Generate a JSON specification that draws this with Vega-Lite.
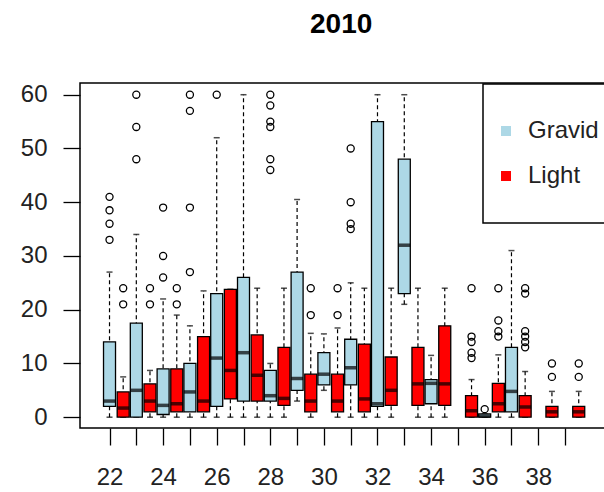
{
  "$schema": "https://vega.github.io/schema/vega-lite/v6.json",
  "autosize": "none",
  "width": 530,
  "height": 345,
  "padding": {"left": 80, "top": 83, "right": -6, "bottom": 64},
  "background": "white",
  "title": {"text": "2010", "fontSize": 28, "font": "Liberation Sans", "fontWeight": "bold", "color": "black", "anchor": "start", "frame": "group", "offset": 22, "baseline": "alphabetic", "dx": 230},
  "datasets": {
    "boxes": [
      {"len": 22, "grp": "Gravid", "lo": 0, "q1": 2, "med": 3, "q3": 14, "hi": 27},
      {"len": 23, "grp": "Gravid", "lo": 0, "q1": 0, "med": 5, "q3": 17.5, "hi": 34},
      {"len": 24, "grp": "Gravid", "lo": 0, "q1": 0.5, "med": 2.2, "q3": 9, "hi": 22},
      {"len": 25, "grp": "Gravid", "lo": 0, "q1": 1, "med": 4.7, "q3": 10, "hi": 17},
      {"len": 26, "grp": "Gravid", "lo": 0, "q1": 2, "med": 11, "q3": 23, "hi": 52},
      {"len": 27, "grp": "Gravid", "lo": 0, "q1": 3, "med": 12, "q3": 26, "hi": 60},
      {"len": 28, "grp": "Gravid", "lo": 0, "q1": 3, "med": 4, "q3": 8.7, "hi": 10},
      {"len": 29, "grp": "Gravid", "lo": 3, "q1": 5, "med": 7.2, "q3": 27, "hi": 40.5},
      {"len": 30, "grp": "Gravid", "lo": 5, "q1": 6, "med": 8, "q3": 12, "hi": 15.5},
      {"len": 31, "grp": "Gravid", "lo": 0, "q1": 6, "med": 9.2, "q3": 14.5, "hi": 25},
      {"len": 32, "grp": "Gravid", "lo": 0, "q1": 2, "med": 2.5, "q3": 55, "hi": 60},
      {"len": 33, "grp": "Gravid", "lo": 21, "q1": 23, "med": 32, "q3": 48, "hi": 60},
      {"len": 34, "grp": "Gravid", "lo": 0, "q1": 2.5, "med": 6.3, "q3": 7, "hi": 11.5},
      {"len": 36, "grp": "Gravid", "lo": 0, "q1": 0, "med": 0.2, "q3": 0.6, "hi": 0.6},
      {"len": 37, "grp": "Gravid", "lo": 0, "q1": 1, "med": 4.8, "q3": 13, "hi": 31},
      {"len": 22, "grp": "Light", "lo": 0, "q1": 0, "med": 1.7, "q3": 4.7, "hi": 7.5},
      {"len": 23, "grp": "Light", "lo": 0, "q1": 1, "med": 3, "q3": 6.2, "hi": 8.7},
      {"len": 24, "grp": "Light", "lo": 0, "q1": 1, "med": 2.5, "q3": 9, "hi": 19},
      {"len": 25, "grp": "Light", "lo": 0, "q1": 1, "med": 3, "q3": 15, "hi": 23.5},
      {"len": 26, "grp": "Light", "lo": 0, "q1": 3.4, "med": 8.7, "q3": 23.8, "hi": 23.8},
      {"len": 27, "grp": "Light", "lo": 0, "q1": 3, "med": 7.8, "q3": 15.3, "hi": 24},
      {"len": 28, "grp": "Light", "lo": 0, "q1": 2.2, "med": 3.5, "q3": 13, "hi": 24},
      {"len": 29, "grp": "Light", "lo": 0, "q1": 1, "med": 3, "q3": 8, "hi": 15.6},
      {"len": 30, "grp": "Light", "lo": 0, "q1": 1, "med": 3, "q3": 8, "hi": 16.6},
      {"len": 31, "grp": "Light", "lo": 0, "q1": 1, "med": 3.4, "q3": 13.6, "hi": 24},
      {"len": 32, "grp": "Light", "lo": 0, "q1": 2.2, "med": 5, "q3": 11.2, "hi": 24},
      {"len": 33, "grp": "Light", "lo": 0, "q1": 2.2, "med": 6.2, "q3": 13, "hi": 24},
      {"len": 34, "grp": "Light", "lo": 0, "q1": 2.2, "med": 6.2, "q3": 17, "hi": 24},
      {"len": 35, "grp": "Light", "lo": 0, "q1": 0, "med": 1.2, "q3": 4, "hi": 7},
      {"len": 36, "grp": "Light", "lo": 0, "q1": 1, "med": 2.5, "q3": 6.3, "hi": 11.6},
      {"len": 37, "grp": "Light", "lo": 0, "q1": 0, "med": 1.9, "q3": 4, "hi": 8.5},
      {"len": 38, "grp": "Light", "lo": 0, "q1": 0, "med": 1, "q3": 2, "hi": 4.8},
      {"len": 39, "grp": "Light", "lo": 0, "q1": 0, "med": 1, "q3": 2, "hi": 4.8}
    ],
    "outliers": [
      {"len": 22, "grp": "Gravid", "v": 41}, {"len": 22, "grp": "Gravid", "v": 38.5}, {"len": 22, "grp": "Gravid", "v": 36}, {"len": 22, "grp": "Gravid", "v": 33},
      {"len": 22, "grp": "Light", "v": 24}, {"len": 22, "grp": "Light", "v": 21},
      {"len": 23, "grp": "Gravid", "v": 60}, {"len": 23, "grp": "Gravid", "v": 54}, {"len": 23, "grp": "Gravid", "v": 48},
      {"len": 23, "grp": "Light", "v": 24}, {"len": 23, "grp": "Light", "v": 21},
      {"len": 24, "grp": "Gravid", "v": 39}, {"len": 24, "grp": "Gravid", "v": 30}, {"len": 24, "grp": "Gravid", "v": 26},
      {"len": 24, "grp": "Light", "v": 24}, {"len": 24, "grp": "Light", "v": 21},
      {"len": 25, "grp": "Gravid", "v": 60}, {"len": 25, "grp": "Gravid", "v": 57}, {"len": 25, "grp": "Gravid", "v": 39}, {"len": 25, "grp": "Gravid", "v": 27},
      {"len": 26, "grp": "Gravid", "v": 60},
      {"len": 28, "grp": "Gravid", "v": 60}, {"len": 28, "grp": "Gravid", "v": 58}, {"len": 28, "grp": "Gravid", "v": 55}, {"len": 28, "grp": "Gravid", "v": 54}, {"len": 28, "grp": "Gravid", "v": 48}, {"len": 28, "grp": "Gravid", "v": 46},
      {"len": 29, "grp": "Light", "v": 24}, {"len": 29, "grp": "Light", "v": 19},
      {"len": 30, "grp": "Light", "v": 24}, {"len": 30, "grp": "Light", "v": 19},
      {"len": 31, "grp": "Gravid", "v": 50}, {"len": 31, "grp": "Gravid", "v": 40}, {"len": 31, "grp": "Gravid", "v": 36}, {"len": 31, "grp": "Gravid", "v": 35},
      {"len": 35, "grp": "Light", "v": 24}, {"len": 35, "grp": "Light", "v": 15}, {"len": 35, "grp": "Light", "v": 14}, {"len": 35, "grp": "Light", "v": 12}, {"len": 35, "grp": "Light", "v": 11},
      {"len": 36, "grp": "Gravid", "v": 1.5},
      {"len": 36, "grp": "Light", "v": 24}, {"len": 36, "grp": "Light", "v": 18}, {"len": 36, "grp": "Light", "v": 16}, {"len": 36, "grp": "Light", "v": 15},
      {"len": 37, "grp": "Light", "v": 24}, {"len": 37, "grp": "Light", "v": 23}, {"len": 37, "grp": "Light", "v": 16}, {"len": 37, "grp": "Light", "v": 15}, {"len": 37, "grp": "Light", "v": 14}, {"len": 37, "grp": "Light", "v": 13},
      {"len": 38, "grp": "Light", "v": 10}, {"len": 38, "grp": "Light", "v": 7.5},
      {"len": 39, "grp": "Light", "v": 10}, {"len": 39, "grp": "Light", "v": 7.5}
    ]
  },
  "encoding": {
    "x": {
      "field": "len", "type": "quantitative",
      "scale": {"domain": [21.085, 40.49], "nice": false, "zero": false},
      "axis": {
        "values": [22, 23, 24, 25, 26, 27, 28, 29, 30, 31, 32, 33, 34, 35, 36, 37, 38, 39],
        "labelExpr": "datum.value % 2 == 0 ? datum.label : ''",
        "title": null, "domain": false, "grid": false,
        "tickSize": 17, "tickWidth": 1.3, "tickColor": "black",
        "labelPadding": 20, "labelFontSize": 24, "labelFont": "Liberation Sans", "labelColor": "#222222",
        "labelOverlap": false, "labelFlush": false
      }
    }
  },
  "layer": [
    {
      "data": {"name": "boxes"},
      "mark": {"type": "rule", "color": "black", "strokeWidth": 1.2, "strokeDash": [4, 3], "xOffset": {"expr": "datum.grp === 'Light' ? 13.66 : 0"}},
      "encoding": {
        "y": {
          "field": "lo", "type": "quantitative",
          "scale": {"domain": [-2.01, 62.18], "nice": false, "zero": false},
          "axis": {
            "values": [0, 10, 20, 30, 40, 50, 60], "title": null, "domain": false, "grid": false,
            "tickSize": 17, "tickWidth": 1.3, "tickColor": "black",
            "labelPadding": 16, "labelFontSize": 24, "labelFont": "Liberation Sans", "labelColor": "#222222"
          }
        },
        "y2": {"field": "hi"}
      }
    },
    {
      "data": {"name": "boxes"},
      "mark": {"type": "tick", "orient": "horizontal", "color": "black", "size": 6, "thickness": 1.5, "xOffset": {"expr": "datum.grp === 'Light' ? 13.66 : 0"}},
      "encoding": {"y": {"field": "lo", "type": "quantitative"}}
    },
    {
      "data": {"name": "boxes"},
      "mark": {"type": "tick", "orient": "horizontal", "color": "black", "size": 6, "thickness": 1.5, "xOffset": {"expr": "datum.grp === 'Light' ? 13.66 : 0"}},
      "encoding": {"y": {"field": "hi", "type": "quantitative"}}
    },
    {
      "data": {"name": "boxes"},
      "mark": {"type": "bar", "width": 12, "stroke": "black", "strokeWidth": 1.3, "opacity": 1, "xOffset": {"expr": "datum.grp === 'Light' ? 13.66 : 0"}},
      "encoding": {
        "y": {"field": "q1", "type": "quantitative"},
        "y2": {"field": "q3"},
        "fill": {
          "field": "grp", "type": "nominal",
          "scale": {"domain": ["Gravid", "Light"], "range": ["lightblue", "red"]},
          "legend": {
            "orient": "none", "legendX": 403, "legendY": 1, "title": null,
            "strokeColor": "black", "padding": 35,
            "symbolType": "M-1,-1H1V1H-1Z", "symbolSize": 100, "symbolStrokeWidth": 0,
            "symbolOffset": -24, "labelOffset": 10, "rowPadding": 21,
            "labelFontSize": 24, "labelFont": "Liberation Sans", "labelColor": "#222222"
          }
        }
      }
    },
    {
      "data": {"name": "boxes"},
      "mark": {"type": "tick", "orient": "horizontal", "color": "black", "size": 12, "thickness": 3.5, "xOffset": {"expr": "datum.grp === 'Light' ? 13.66 : 0"}},
      "encoding": {"y": {"field": "med", "type": "quantitative"}}
    },
    {
      "data": {"name": "outliers"},
      "mark": {"type": "point", "shape": "circle", "filled": false, "stroke": "black", "strokeWidth": 1.3, "size": 50, "opacity": 1, "xOffset": {"expr": "datum.grp === 'Light' ? 13.66 : 0"}},
      "encoding": {"y": {"field": "v", "type": "quantitative"}}
    }
  ],
  "config": {
    "view": {"stroke": "black", "strokeWidth": 1.5},
    "legend": {"strokeWidth": 1.5}
  }
}
